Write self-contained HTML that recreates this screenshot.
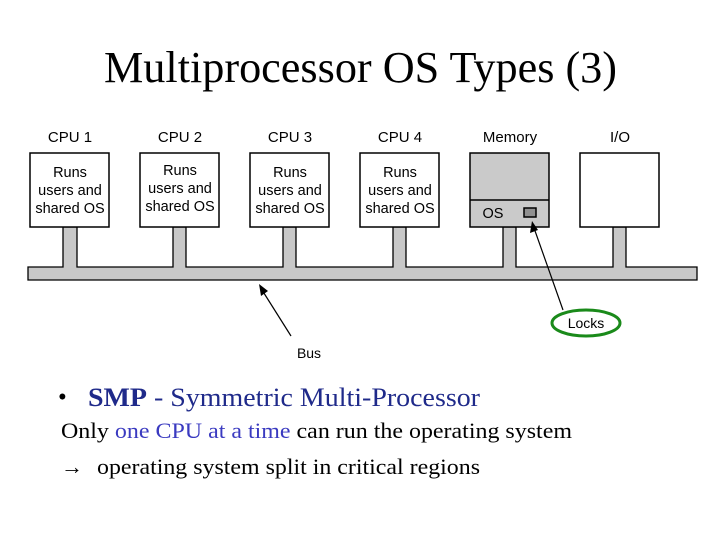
<!DOCTYPE html>
<html><head><style>
body{margin:0;background:#fff;}
</style></head><body>
<svg width="720" height="540" xmlns="http://www.w3.org/2000/svg" style="display:block">
<rect width="720" height="540" fill="#fff"/>
<text x="104" y="82" textLength="513" lengthAdjust="spacingAndGlyphs" font-family="Liberation Serif, serif" font-size="44">Multiprocessor OS Types (3)</text>
<g font-family="Liberation Sans, sans-serif" font-size="15" text-anchor="middle">
<text x="70" y="142">CPU 1</text><text x="180" y="142">CPU 2</text><text x="290" y="142">CPU 3</text><text x="400" y="142">CPU 4</text><text x="510" y="142">Memory</text><text x="620" y="142">I/O</text>
</g>
<g fill="#c8c8c8" stroke="#000" stroke-width="1.3">
<path d="M28 267 H63 V227 H77 V267 H173 V227 H186 V267 H283 V227 H296 V267 H393 V227 H406 V267 H503 V227 H516 V267 H613 V227 H626 V267 H697 V280 H28 Z"/>
</g>
<g fill="#fff" stroke="#000" stroke-width="1.5">
<rect x="30" y="153" width="79" height="74"/><rect x="140" y="153" width="79" height="74"/><rect x="250" y="153" width="79" height="74"/><rect x="360" y="153" width="79" height="74"/><rect x="580" y="153" width="79" height="74"/>
<rect x="470" y="153" width="79" height="74" fill="#cacaca"/>
<line x1="470" y1="200" x2="549" y2="200"/>
<rect x="524" y="208" width="12" height="9" fill="#909090"/>
</g>
<g font-family="Liberation Sans, sans-serif" font-size="14.5" text-anchor="middle">
<text x="70" y="177">Runs</text><text x="70" y="195">users and</text><text x="70" y="213">shared OS</text>
<text x="180" y="175">Runs</text><text x="180" y="193">users and</text><text x="180" y="211">shared OS</text>
<text x="290" y="177">Runs</text><text x="290" y="195">users and</text><text x="290" y="213">shared OS</text>
<text x="400" y="177">Runs</text><text x="400" y="195">users and</text><text x="400" y="213">shared OS</text>
<text x="493" y="218">OS</text>
<text x="586" y="328" font-size="14">Locks</text>
<text x="309" y="358" font-size="14">Bus</text>
</g>
<ellipse cx="586" cy="323" rx="34" ry="13" fill="none" stroke="#1a8a1a" stroke-width="3"/>
<line x1="563" y1="310" x2="534" y2="228" stroke="#000" stroke-width="1.2"/>
<path d="M532 221 L530 233 L538 230 Z" fill="#000"/>
<line x1="291" y1="336" x2="262" y2="290" stroke="#000" stroke-width="1.2"/>
<path d="M259 284 L261 296 L268 291 Z" fill="#000"/>
<g font-family="Liberation Serif, serif">
<text x="58" y="405" font-size="25">•</text>
<text x="88" y="406" font-size="26" fill="#1f2a8a" textLength="392" lengthAdjust="spacingAndGlyphs"><tspan font-weight="bold">SMP</tspan> - Symmetric Multi-Processor</text>
<text x="61" y="438" font-size="22" textLength="511" lengthAdjust="spacingAndGlyphs">Only <tspan fill="#3a3ac0">one CPU at a time</tspan> can run the operating system</text>
<text x="61" y="474" font-size="22">→</text>
<text x="97" y="474" font-size="22" textLength="383" lengthAdjust="spacingAndGlyphs">operating system split in critical regions</text>
</g>
</svg>
</body></html>
